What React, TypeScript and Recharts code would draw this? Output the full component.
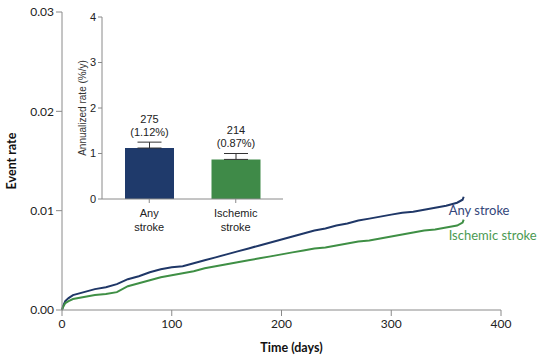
import React from "react";
import {
  LineChart,
  Line,
  XAxis,
  YAxis,
  BarChart,
  Bar,
  ErrorBar,
  LabelList,
  Cell,
} from "recharts";

const days = [
  0, 1, 3, 6, 10, 20, 30, 40, 50, 60, 70, 80, 90, 100, 110, 120, 130, 140, 150,
  160, 170, 180, 190, 200, 210, 220, 230, 240, 250, 260, 270, 280, 290, 300,
  310, 320, 330, 340, 350, 360, 365, 366,
];
const anyStroke = [
  0, 0.0004, 0.0009, 0.0012, 0.0015, 0.0018, 0.0021, 0.0023, 0.0026, 0.0031,
  0.0034, 0.0038, 0.0041, 0.0043, 0.0044, 0.0047, 0.005, 0.0053, 0.0056,
  0.0059, 0.0062, 0.0065, 0.0068, 0.0071, 0.0074, 0.0077, 0.008, 0.0082,
  0.0085, 0.0087, 0.009, 0.0092, 0.0094, 0.0096, 0.0098, 0.0099, 0.0101,
  0.0103, 0.0105, 0.0108, 0.0111, 0.0114,
];
const ischemicStroke = [
  0, 0.0003, 0.0007, 0.0009, 0.0011, 0.0013, 0.0015, 0.0016, 0.0018, 0.0024,
  0.0027, 0.003, 0.0033, 0.0035, 0.0037, 0.0039, 0.0042, 0.0044, 0.0046,
  0.0048, 0.005, 0.0052, 0.0054, 0.0056, 0.0058, 0.006, 0.0062, 0.0063,
  0.0065, 0.0067, 0.0069, 0.007, 0.0072, 0.0074, 0.0076, 0.0078, 0.008,
  0.0081, 0.0083, 0.0085, 0.0088, 0.0091,
];

const xTicks = [0, 100, 200, 300, 400];
const yTicks = [0, 0.01, 0.02, 0.03];

// inset
const categories = [
  ["Any", "stroke"],
  ["Ischemic", "stroke"],
];
const rates = [1.12, 0.87];
const counts = [275, 214];
const rateErr = [0.13, 0.13];
const insetTicks = [0, 1, 2, 3, 4];

const BLUE = "#1f3767";
const GREEN = "#3f8f45";
const AXIS = "#8a8a8a";
const mainFont = "Lato, sans-serif";
const insetFont = "'Liberation Sans', Arial, sans-serif";

const lineData = days.map((d, i) => ({
  day: d,
  any: anyStroke[i],
  ischemic: ischemicStroke[i],
}));

const barData = categories.map((c, i) => ({
  name: c.join(" "),
  rate: rates[i],
  count: counts[i],
  err: [0, rateErr[i]],
}));

const endLabel = (text: string, color: string, dy: number) => (props: any) => {
  const { x, y, index } = props;
  if (index !== days.length - 1) return null;
  return (
    <text
      x={x - 15}
      y={y + dy}
      fill={color}
      fontSize={13}
      fontFamily={mainFont}
      dominantBaseline="middle"
    >
      {text}
    </text>
  );
};

const CatTick = (props: any) => {
  const { x, y, payload } = props;
  const lines = categories[payload.index] || [];
  return (
    <text x={x} y={y} textAnchor="middle" fill="#222" fontSize={11} fontFamily={insetFont}>
      {lines.map((l, i) => (
        <tspan key={i} x={x} dy={i === 0 ? 12 : 14}>
          {l}
        </tspan>
      ))}
    </text>
  );
};

const BarTopLabel = (props: any) => {
  const { x, y, width, index } = props;
  const cx = x + width / 2;
  return (
    <text textAnchor="middle" fill="#222" fontSize={11} fontFamily={insetFont}>
      <tspan x={cx} y={y - 25}>
        {counts[index]}
      </tspan>
      <tspan x={cx} y={y - 12}>
        ({rates[index].toFixed(2)}%)
      </tspan>
    </text>
  );
};

export default function App() {
  return (
    <div style={{ position: "absolute", left: 0, top: 0, width: 550, height: 361, background: "#fff" }}>
      <LineChart
        width={550}
        height={361}
        data={lineData}
        margin={{ top: 12, right: 49, bottom: 0, left: 0 }}
      >
        <XAxis
          dataKey="day"
          type="number"
          domain={[0, 400]}
          ticks={xTicks}
          height={51}
          stroke={AXIS}
          tickSize={6}
          tickMargin={3}
          tick={{ fill: "#222", fontSize: 12, fontFamily: mainFont }}
          label={{
            value: "Time (days)",
            position: "center",
            dx: 10,
            dy: 12,
            style: { fontWeight: 700, fontSize: 12.5, fill: "#111", fontFamily: mainFont },
          }}
        />
        <YAxis
          type="number"
          domain={[0, 0.03]}
          ticks={yTicks}
          width={62}
          stroke={AXIS}
          tickSize={6}
          tickMargin={2}
          tickFormatter={(v: number) => v.toFixed(2)}
          tick={{ fill: "#222", fontSize: 12, fontFamily: mainFont }}
          label={{
            value: "Event rate",
            angle: -90,
            position: "center",
            dx: -19,
            style: { fontWeight: 700, fontSize: 12.5, fill: "#111", fontFamily: mainFont },
          }}
        />
        <Line
          dataKey="any"
          stroke={BLUE}
          strokeWidth={2}
          dot={false}
          isAnimationActive={false}
          label={endLabel("Any stroke", "#34467a", 15)}
        />
        <Line
          dataKey="ischemic"
          stroke={GREEN}
          strokeWidth={2}
          dot={false}
          isAnimationActive={false}
          label={endLabel("Ischemic stroke", "#4c9a52", 17)}
        />
      </LineChart>

      <div style={{ position: "absolute", left: 40, top: 0 }}>
        <BarChart
          width={260}
          height={240}
          data={barData}
          margin={{ top: 17, right: 17, bottom: 0, left: 0 }}
        >
          <XAxis
            dataKey="name"
            height={41}
            stroke={AXIS}
            tickSize={4}
            padding={{ left: 4, right: 4 }}
            tick={<CatTick />}
            interval={0}
          />
          <YAxis
            type="number"
            domain={[0, 4]}
            ticks={insetTicks}
            width={62}
            stroke={AXIS}
            tickSize={4}
            tickMargin={2}
            tick={{ fill: "#222", fontSize: 11, fontFamily: insetFont }}
            label={{
              value: "Annualized rate (%/y)",
              angle: -90,
              position: "center",
              dx: 11,
              style: { fontSize: 10, fill: "#333", fontFamily: insetFont },
            }}
          />
          <Bar dataKey="rate" barSize={49} isAnimationActive={false}>
            {barData.map((_, i) => (
              <Cell key={i} fill={i === 0 ? "#1f3a6b" : "#3f8a48"} />
            ))}
            <ErrorBar dataKey="err" width={12} stroke="#333" strokeWidth={1} direction="y" />
            <LabelList dataKey="count" content={<BarTopLabel />} />
          </Bar>
        </BarChart>
      </div>
    </div>
  );
}
